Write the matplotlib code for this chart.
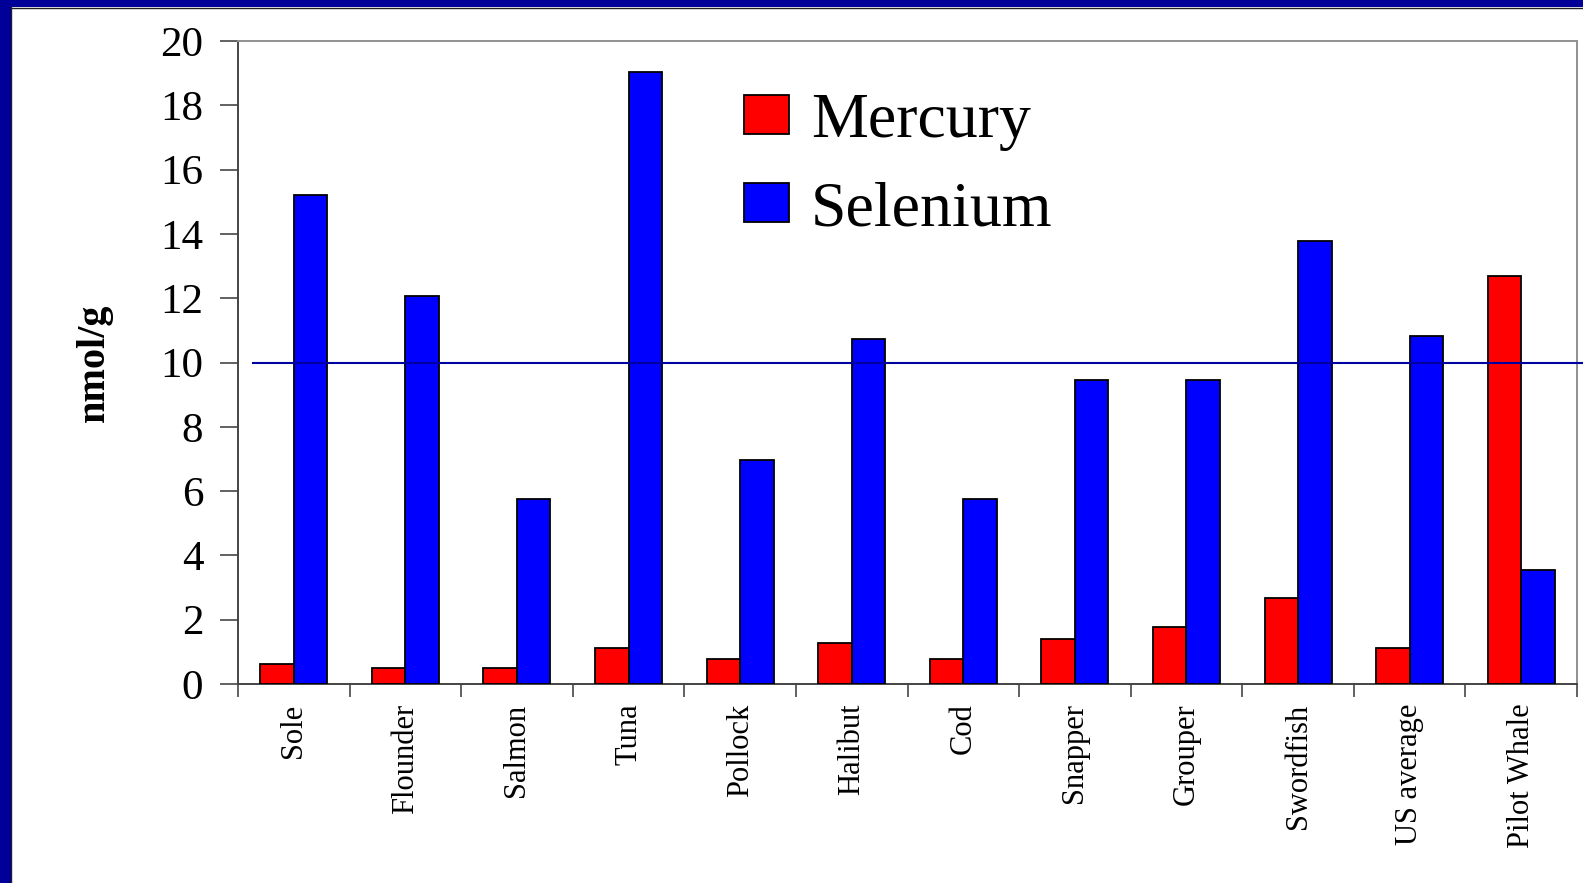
import matplotlib
matplotlib.use("Agg")
import matplotlib.pyplot as plt
from matplotlib.patches import Rectangle
from matplotlib.lines import Line2D
import matplotlib.transforms as mtransforms
import numpy as np

categories = ["Sole", "Flounder", "Salmon", "Tuna", "Pollock", "Halibut", "Cod",
              "Snapper", "Grouper", "Swordfish", "US average", "Pilot Whale"]
mercury = [0.63, 0.50, 0.50, 1.13, 0.78, 1.29, 0.78, 1.41, 1.76, 2.66, 1.13, 12.70]
selenium = [15.2, 12.07, 5.74, 19.03, 6.96, 10.72, 5.74, 9.47, 9.47, 13.79, 10.82, 3.54]
series_names = ["Mercury", "Selenium"]
y_ticks = [0, 2, 4, 6, 8, 10, 12, 14, 16, 18, 20]
reference_level = 10
y_label = "nmol/g"

W, H = 1583, 883
fig = plt.figure(figsize=(W / 100, H / 100), dpi=100)
fig.patch.set_facecolor("white")

serif = ["Liberation Serif", "DejaVu Serif"]

ax = fig.add_axes([238 / W, 1 - 684 / H, (1577 - 238) / W, (684 - 41) / H])
x = np.arange(len(categories))
bw = 0.3
ax.bar(x - bw / 2, mercury, width=bw, color="#ff0000", edgecolor="black",
       linewidth=1.3, label=series_names[0], zorder=3)
ax.bar(x + bw / 2, selenium, width=bw, color="#0000ff", edgecolor="black",
       linewidth=1.3, label=series_names[1], zorder=3)

ax.set_xlim(-0.5, len(categories) - 0.5)
ax.set_ylim(0, 20)

# reference line at 10 (extends past the right spine to the edge)
trans = mtransforms.blended_transform_factory(ax.transAxes, ax.transData)
ax.plot([(253 - 238) / 1339, (1583 - 238) / 1339], [reference_level, reference_level],
        transform=trans, color="#0000a0", linewidth=1.5, clip_on=False, zorder=4)

# y axis
ax.set_yticks(y_ticks)
ax.set_yticklabels([str(v) for v in y_ticks], fontfamily=serif, fontsize=31)
ax.tick_params(axis="y", direction="out", length=13, width=1.3, color="#555555",
               pad=12)

# x axis: labels at centers, tick marks at boundaries
ax.set_xticks(x)
ax.set_xticklabels(categories, rotation=90, fontfamily=serif, fontsize=22,
                   va="top", ha="center")
ax.tick_params(axis="x", which="major", length=0, pad=14)
ax.set_xticks(np.arange(-0.5, len(categories), 1.0), minor=True)
ax.tick_params(axis="x", which="minor", direction="out", length=9, width=1.3,
               color="#555555")

ax.set_ylabel(y_label, fontfamily=serif, fontsize=29, fontweight="bold")
ax.yaxis.set_label_coords(-0.0934, 0.5)

for s in ["left", "bottom"]:
    ax.spines[s].set_color("#444444")
    ax.spines[s].set_linewidth(1.4)
for s in ["top", "right"]:
    ax.spines[s].set_color("#909090")
    ax.spines[s].set_linewidth(1.4)

leg = ax.legend(loc="upper left", bbox_to_anchor=(744 / W, 1 - 93 / H),
                bbox_transform=fig.transFigure, frameon=False,
                prop={"family": serif, "size": 46},
                handlelength=0.70, handleheight=0.58, handletextpad=0.35,
                labelspacing=0.47, borderpad=0, borderaxespad=0)
for t in leg.get_texts():
    t.set_color("black")

# slide border (dark blue, top and left)
fig.patches.append(Rectangle((0, 1 - 7 / H), 1, 7 / H, transform=fig.transFigure,
                             facecolor="#000099", edgecolor="none", zorder=10))
fig.patches.append(Rectangle((0, 0), 10.5 / W, 1, transform=fig.transFigure,
                             facecolor="#000099", edgecolor="none", zorder=10))
fig.lines.append(Line2D([10.5 / W, 1], [1 - 7.5 / H, 1 - 7.5 / H],
                        transform=fig.transFigure, color="#202020", linewidth=1))
fig.lines.append(Line2D([11 / W, 11 / W], [0, 1 - 7 / H],
                        transform=fig.transFigure, color="#202020", linewidth=1))

fig.savefig("out.png", dpi=100)
